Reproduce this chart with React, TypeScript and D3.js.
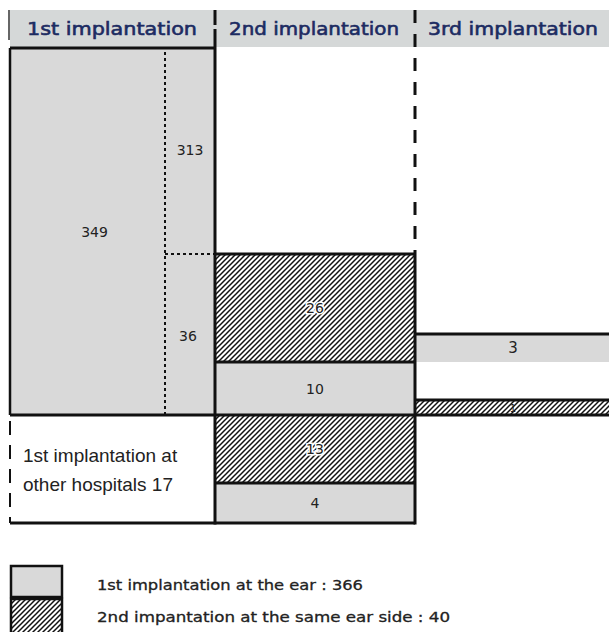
import React from "react";
import * as d3 from "d3";

// ---- data ----
const columnLabels = ["1st implantation", "2nd implantation", "3rd implantation"];
const firstTotal = 349;
const firstSplitValues = [313, 36];
const secondAboveValues = [10, 26]; // bottom to top
const secondAboveKinds = ["first", "same"];
const secondBelowValues = [13, 4]; // top to bottom
const secondBelowKinds = ["same", "first"];
const thirdValues = [1, 3]; // bottom to top
const thirdKinds = ["same", "first"];
const thirdOffsets = [0, 10];
const otherHospitalsLines = ["1st implantation at", "other hospitals 17"];
const legendLabels = ["1st implantation at the ear : 366", "2nd impantation at the same ear side : 40"];
const legendKinds = ["first", "same"];

// ---- layout ----
const W = 609, H = 632;
const colX = d3.scaleOrdinal<string, number>().domain(columnLabels).range([10, 215, 415]);
const colRight = 609;
const splitX = 165;
// schematic (non-proportional) vertical scale on cumulative counts
const y = d3.scaleLinear()
  .domain([-17, -13, 0, 1, 10, 13, 36, firstTotal])
  .range([523, 483, 415, 400, 362, 334, 254, 48]);

const GREY = "#d9d9d9";
const INK = "#111";
const NAVY = "#1c2b62";
const numFont = "'DejaVu Sans', sans-serif";

function fillFor(kind: string) {
  return kind === "same" ? "url(#hatch)" : GREY;
}

export default function App() {
  const x1 = colX(columnLabels[0]);
  const x2 = colX(columnLabels[1]);
  const x3 = colX(columnLabels[2]);

  let acc = 0;
  const col2Above = secondAboveValues.map((v, i) => {
    const s = { y0: acc, y1: acc + v, v, kind: secondAboveKinds[i] };
    acc += v;
    return s;
  });
  acc = 0;
  const col2Below = secondBelowValues.map((v, i) => {
    const s = { y0: acc, y1: acc - v, v, kind: secondBelowKinds[i] };
    acc -= v;
    return s;
  });
  const col3 = thirdValues.map((v, i) => ({ y0: thirdOffsets[i], y1: thirdOffsets[i] + v, v, kind: thirdKinds[i] }));

  const headerText = [x1 + 17, x2 + 14, x3 + 13];
  const numProps = { fontFamily: numFont, fontSize: 14, fill: "#222", textAnchor: "middle" as const };

  return (
    <svg width={W} height={H} style={{ position: "absolute", left: 0, top: 0, background: "#fff" }}>
      <defs>
        <pattern id="hatch" patternUnits="userSpaceOnUse" width="5" height="5">
          <rect width="5" height="5" fill="#fff" />
          <path d="M0,5 L5,0 M-1,1 L1,-1 M4,6 L6,4" stroke="#111" strokeWidth="1.5" />
        </pattern>
      </defs>

      {/* header band */}
      <rect x={x1} y={10} width={colRight - x1} height={37} fill="#d5d8d8" />
      <line x1={x1 - 1} x2={x1 - 1} y1={10} y2={40} stroke="#333" strokeWidth={1.5} />
      {columnLabels.map((c, i) => (
        <text key={c} x={headerText[i]} y={35} fontFamily={numFont} fontSize={18} fill={NAVY}
          stroke={NAVY} strokeWidth={0.6} textLength={170} lengthAdjust="spacingAndGlyphs">{c}</text>
      ))}

      {/* column 1 */}
      <rect x={x1} y={y(firstTotal)} width={x2 - x1} height={y(0) - y(firstTotal)} fill={GREY} />
      <line x1={splitX} x2={splitX} y1={y(firstTotal) + 4} y2={y(0)} stroke={INK} strokeWidth={2} strokeDasharray="3 3" />
      <line x1={splitX} x2={x2} y1={y(firstSplitValues[1])} y2={y(firstSplitValues[1])} stroke={INK} strokeWidth={2} strokeDasharray="3 3" />
      <text x={(x1 + splitX) / 2 + 7} y={(y(firstTotal) + y(0)) / 2 + 5} {...numProps}>{firstTotal}</text>
      <text x={(splitX + x2) / 2} y={155} {...numProps}>{firstSplitValues[0]}</text>
      <text x={(splitX + x2) / 2 - 2} y={(y(0) + y(firstSplitValues[1])) / 2 + 6} {...numProps}>{firstSplitValues[1]}</text>

      {/* column 2 above */}
      {col2Above.map((s, i) => (
        <g key={"a" + i}>
          <rect x={x2} y={y(s.y1)} width={x3 - x2} height={y(s.y0) - y(s.y1)} fill={fillFor(s.kind)} />
          <text x={(x2 + x3) / 2} y={(y(s.y0) + y(s.y1)) / 2 + 5} {...numProps}
            stroke={s.kind === "same" ? "#fff" : "none"} strokeWidth={3} paintOrder="stroke">{s.v}</text>
        </g>
      ))}
      {/* column 2 below */}
      {col2Below.map((s, i) => (
        <g key={"b" + i}>
          <rect x={x2} y={y(s.y0)} width={x3 - x2} height={y(s.y1) - y(s.y0)} fill={fillFor(s.kind)} />
          <text x={(x2 + x3) / 2} y={(y(s.y0) + y(s.y1)) / 2 + 5} {...numProps}
            stroke={s.kind === "same" ? "#fff" : "none"} strokeWidth={3} paintOrder="stroke">{s.v}</text>
        </g>
      ))}
      {/* column 3 */}
      {col3.map((s, i) => (
        <g key={"c" + i}>
          <rect x={x3} y={y(s.y1)} width={colRight - x3} height={y(s.y0) - y(s.y1)} fill={fillFor(s.kind)} />
          <text x={(x3 + colRight) / 2 + 1} y={(y(s.y0) + y(s.y1)) / 2 + (s.v > 1 ? 5 : 4)} {...numProps}
            fontSize={s.v > 1 ? 15 : 10}>{s.v}</text>
        </g>
      ))}

      {/* other hospitals box */}
      {otherHospitalsLines.map((t, i) => (
        <text key={t} x={x1 + 13} y={462 + i * 29} fontFamily="'Liberation Sans', Arial, sans-serif" fontSize={19} fill="#222">{t}</text>
      ))}

      {/* borders */}
      <g stroke={INK} fill="none">
        <line x1={x1} x2={x2} y1={y(firstTotal)} y2={y(firstTotal)} strokeWidth={3} />
        <line x1={x1} x2={x1} y1={y(firstTotal)} y2={y(0)} strokeWidth={2.5} />
        <line x1={x1} x2={x1} y1={y(0) + 6} y2={y(-17)} strokeWidth={2} strokeDasharray="14 10" />
        <line x1={x2} x2={x2} y1={10} y2={25} strokeWidth={3} />
        <line x1={x2} x2={x2} y1={29} y2={y(-17) + 1.5} strokeWidth={3} />
        <line x1={x3} x2={x3} y1={10} y2={y(36)} strokeWidth={3} strokeDasharray="13 11" />
        <line x1={x3} x2={x3} y1={y(36)} y2={y(-17) + 1.5} strokeWidth={3} />
        <line x1={x2} x2={x3} y1={y(36)} y2={y(36)} strokeWidth={3} />
        <line x1={x2} x2={x3} y1={y(10)} y2={y(10)} strokeWidth={3} />
        <line x1={x1} x2={colRight} y1={y(0)} y2={y(0)} strokeWidth={3} />
        <line x1={x2} x2={x3} y1={y(-13)} y2={y(-13)} strokeWidth={3} />
        <line x1={x1} x2={x3} y1={y(-17)} y2={y(-17)} strokeWidth={3} />
        <line x1={x3} x2={colRight} y1={y(13)} y2={y(13)} strokeWidth={3} />
        <line x1={x3} x2={colRight} y1={y(1)} y2={y(1)} strokeWidth={3} />
      </g>

      {/* legend */}
      {legendKinds.map((k, i) => (
        <g key={k}>
          <rect x={11} y={566 + i * 33} width={51} height={i === 0 ? 31 : 40} fill={fillFor(k)} stroke={INK} strokeWidth={2.5} />
          <text x={97} y={590 + i * 32} fontFamily={numFont} fontSize={14} fill="#222" stroke="#222" strokeWidth={0.3}
            textLength={i === 0 ? 266 : 353} lengthAdjust="spacingAndGlyphs">{legendLabels[i]}</text>
        </g>
      ))}
    </svg>
  );
}
